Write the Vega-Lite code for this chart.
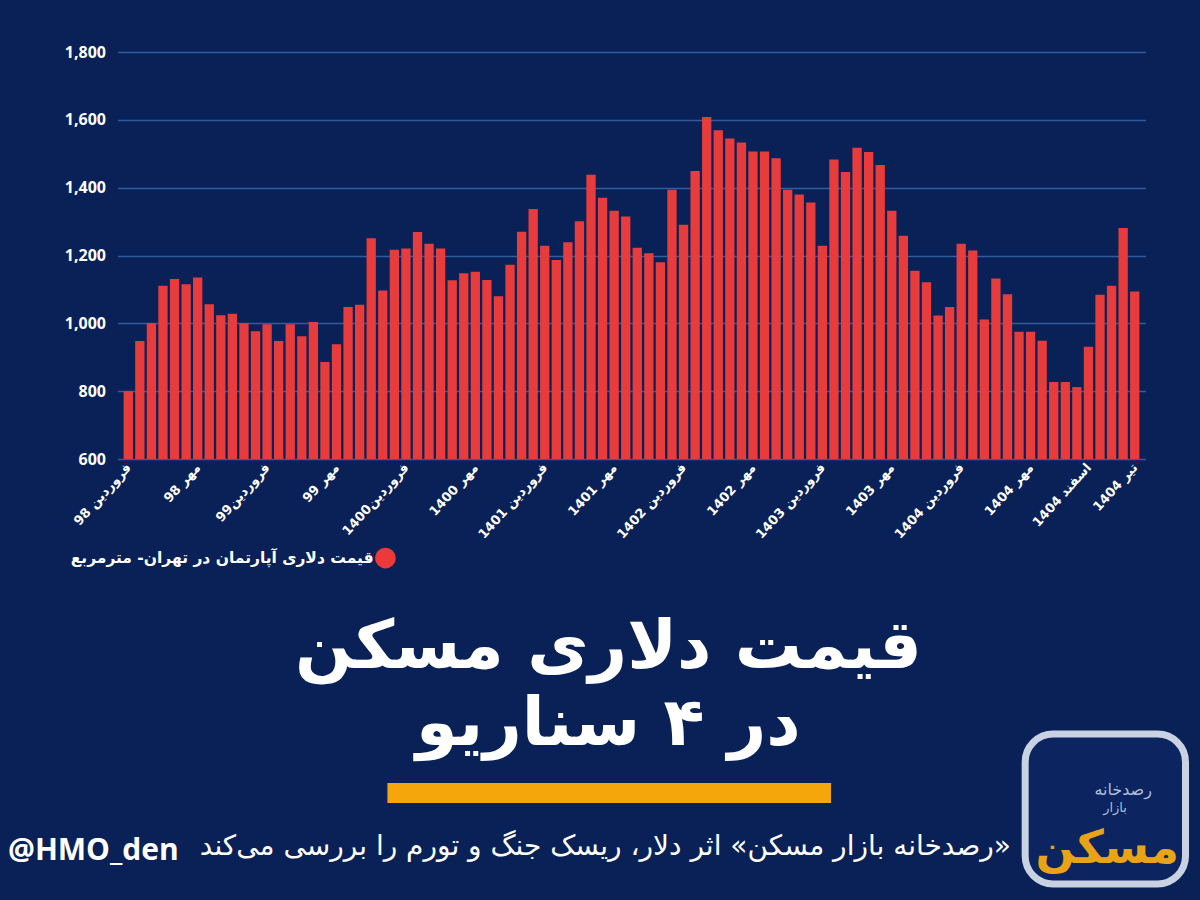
{
  "$schema": "https://vega.github.io/schema/vega-lite/v6.json",
  "width": 1028,
  "height": 407,
  "autosize": "none",
  "padding": {"left": 117.5, "top": 52, "right": 54.5, "bottom": 441},
  "background": "#0a2157",
  "config": {"view": {"stroke": null}},
  "data": {
    "values": [
      {"n": 0, "price": 800}, {"n": 1, "price": 948}, {"n": 2, "price": 1000}, {"n": 3, "price": 1111},
      {"n": 4, "price": 1131}, {"n": 5, "price": 1115}, {"n": 6, "price": 1135}, {"n": 7, "price": 1056},
      {"n": 8, "price": 1024}, {"n": 9, "price": 1028}, {"n": 10, "price": 1000}, {"n": 11, "price": 977},
      {"n": 12, "price": 997}, {"n": 13, "price": 948}, {"n": 14, "price": 997}, {"n": 15, "price": 962},
      {"n": 16, "price": 1004}, {"n": 17, "price": 886}, {"n": 18, "price": 938}, {"n": 19, "price": 1048},
      {"n": 20, "price": 1055}, {"n": 21, "price": 1251}, {"n": 22, "price": 1097}, {"n": 23, "price": 1217},
      {"n": 24, "price": 1221}, {"n": 25, "price": 1269}, {"n": 26, "price": 1235}, {"n": 27, "price": 1221},
      {"n": 28, "price": 1127}, {"n": 29, "price": 1148}, {"n": 30, "price": 1152}, {"n": 31, "price": 1128},
      {"n": 32, "price": 1080}, {"n": 33, "price": 1173}, {"n": 34, "price": 1270}, {"n": 35, "price": 1337},
      {"n": 36, "price": 1229}, {"n": 37, "price": 1187}, {"n": 38, "price": 1239}, {"n": 39, "price": 1301},
      {"n": 40, "price": 1438}, {"n": 41, "price": 1370}, {"n": 42, "price": 1332}, {"n": 43, "price": 1315},
      {"n": 44, "price": 1223}, {"n": 45, "price": 1207}, {"n": 46, "price": 1180}, {"n": 47, "price": 1394},
      {"n": 48, "price": 1291}, {"n": 49, "price": 1449}, {"n": 50, "price": 1608}, {"n": 51, "price": 1569},
      {"n": 52, "price": 1545}, {"n": 53, "price": 1533}, {"n": 54, "price": 1507}, {"n": 55, "price": 1507},
      {"n": 56, "price": 1487}, {"n": 57, "price": 1394}, {"n": 58, "price": 1380}, {"n": 59, "price": 1356},
      {"n": 60, "price": 1229}, {"n": 61, "price": 1483}, {"n": 62, "price": 1446}, {"n": 63, "price": 1518},
      {"n": 64, "price": 1505}, {"n": 65, "price": 1467}, {"n": 66, "price": 1332}, {"n": 67, "price": 1258},
      {"n": 68, "price": 1155}, {"n": 69, "price": 1121}, {"n": 70, "price": 1023}, {"n": 71, "price": 1048},
      {"n": 72, "price": 1235}, {"n": 73, "price": 1215}, {"n": 74, "price": 1011}, {"n": 75, "price": 1132},
      {"n": 76, "price": 1086}, {"n": 77, "price": 975}, {"n": 78, "price": 975}, {"n": 79, "price": 949},
      {"n": 80, "price": 827}, {"n": 81, "price": 827}, {"n": 82, "price": 812}, {"n": 83, "price": 931},
      {"n": 84, "price": 1084}, {"n": 85, "price": 1111}, {"n": 86, "price": 1281}, {"n": 87, "price": 1094}
    ]
  },
  "layer": [
    {
      "mark": {"type": "bar", "orient": "vertical", "width": 9.3, "color": "#e83c3c"},
      "encoding": {
        "x": {
          "field": "n",
          "type": "quantitative",
          "scale": {"domain": [-0.5, 87.5], "nice": false, "zero": false},
          "axis": {
            "title": null,
            "values": [0, 6, 12, 18, 24, 30, 36, 42, 48, 54, 60, 66, 72, 78, 83, 87],
            "labelExpr": "{'0': '\u200fفروردین 98', '6': '\u200fمهر 98', '12': '\u200fفروردین99', '18': '\u200fمهر 99', '24': '\u200fفروردین1400', '30': '\u200fمهر 1400', '36': '\u200fفروردین 1401', '42': '\u200fمهر 1401', '48': '\u200fفروردین 1402', '54': '\u200fمهر 1402', '60': '\u200fفروردین 1403', '66': '\u200fمهر 1403', '72': '\u200fفروردین 1404', '78': '\u200fمهر 1404', '83': '\u200fاسفند 1404', '87': '\u200fتیر 1404'}[datum.value]",
            "labelAngle": -48,
            "grid": false,
            "domain": false,
            "ticks": false,
            "labelColor": "#ffffff",
            "labelFont": "DejaVu Sans",
            "labelFontWeight": "bold",
            "labelFontSize": 13,
            "labelPadding": 6,
            "labelOverlap": false,
            "labelBound": false,
            "labelFlush": false
          }
        },
        "y": {
          "field": "price",
          "type": "quantitative",
          "scale": {"domain": [600, 1800], "nice": false, "zero": false},
          "axis": {
            "title": null,
            "values": [600, 800, 1000, 1200, 1400, 1600, 1800],
            "format": ",.0f",
            "gridColor": "#2f5d9e",
            "gridWidth": 1.5,
            "domain": false,
            "ticks": false,
            "labelColor": "#ffffff",
            "labelFont": "Open Sans",
            "labelFontWeight": "bold",
            "labelFontSize": 16,
            "labelPadding": 12
          }
        },
        "y2": {"datum": 600}
      }
    },
    {
      "data": {"values": [{}]},
      "mark": {"type": "point", "filled": true, "size": 430, "color": "#ec3a3a", "opacity": 1},
      "encoding": {"x": {"datum": 22.23}, "y": {"datum": 308}}
    },
    {
      "data": {"values": [{}]},
      "mark": {"type": "text", "text": "قیمت دلاری آپارتمان در تهران- مترمربع", "align": "right", "baseline": "middle", "font": "DejaVu Sans", "fontWeight": "bold", "fontSize": 15.5, "color": "#ffffff"},
      "encoding": {"x": {"datum": 21.2}, "y": {"datum": 308}}
    },
    {
      "data": {"values": [{}]},
      "mark": {"type": "text", "text": "قیمت دلاری مسکن", "align": "center", "baseline": "middle", "font": "DejaVu Sans", "fontWeight": "bold", "fontSize": 67, "color": "#ffffff"},
      "encoding": {"x": {"datum": 41.5}, "y": {"datum": 43}}
    },
    {
      "data": {"values": [{}]},
      "mark": {"type": "text", "text": "در ۴ سناریو", "align": "center", "baseline": "middle", "font": "DejaVu Sans", "fontWeight": "bold", "fontSize": 67, "color": "#ffffff"},
      "encoding": {"x": {"datum": 41.5}, "y": {"datum": -184}}
    },
    {
      "data": {"values": [{}]},
      "mark": {"type": "rect", "color": "#f5a60a"},
      "encoding": {"x": {"datum": 22.4}, "x2": {"datum": 60.75}, "y": {"datum": -355}, "y2": {"datum": -414}}
    },
    {
      "data": {"values": [{}]},
      "mark": {"type": "text", "text": "\u200f«رصدخانه بازار مسکن» اثر دلار، ریسک جنگ و تورم را بررسی می\u200cکند", "align": "right", "baseline": "middle", "font": "DejaVu Sans", "fontSize": 28, "color": "#ffffff"},
      "encoding": {"x": {"datum": 76.3}, "y": {"datum": -544}}
    },
    {
      "data": {"values": [{}]},
      "mark": {"type": "text", "text": "@HMO_den", "align": "left", "baseline": "middle", "font": "Open Sans", "fontWeight": "bold", "fontSize": 30, "color": "#ffffff"},
      "encoding": {"x": {"datum": -10.4}, "y": {"datum": -556}}
    },
    {
      "data": {"values": [{}]},
      "mark": {"type": "rect", "fill": "#0c2460", "stroke": "#c8d2e2", "strokeWidth": 7, "cornerRadius": 28},
      "encoding": {"x": {"datum": 77.53}, "x2": {"datum": 91.39}, "y": {"datum": -210.8}, "y2": {"datum": -653}}
    },
    {
      "data": {"values": [{}]},
      "mark": {"type": "text", "text": "رصدخانه", "align": "center", "baseline": "middle", "font": "DejaVu Sans", "fontSize": 16, "color": "#aebfdc"},
      "encoding": {"x": {"datum": 86.0}, "y": {"datum": -376}}
    },
    {
      "data": {"values": [{}]},
      "mark": {"type": "text", "text": "بازار", "align": "center", "baseline": "middle", "font": "DejaVu Sans", "fontSize": 13, "color": "#aebfdc"},
      "encoding": {"x": {"datum": 85.3}, "y": {"datum": -429}}
    },
    {
      "data": {"values": [{}]},
      "mark": {"type": "text", "text": "مسکن", "align": "center", "baseline": "middle", "font": "DejaVu Sans", "fontWeight": "bold", "fontSize": 46, "color": "#e8a317"},
      "encoding": {"x": {"datum": 84.63}, "y": {"datum": -550}}
    }
  ]
}
